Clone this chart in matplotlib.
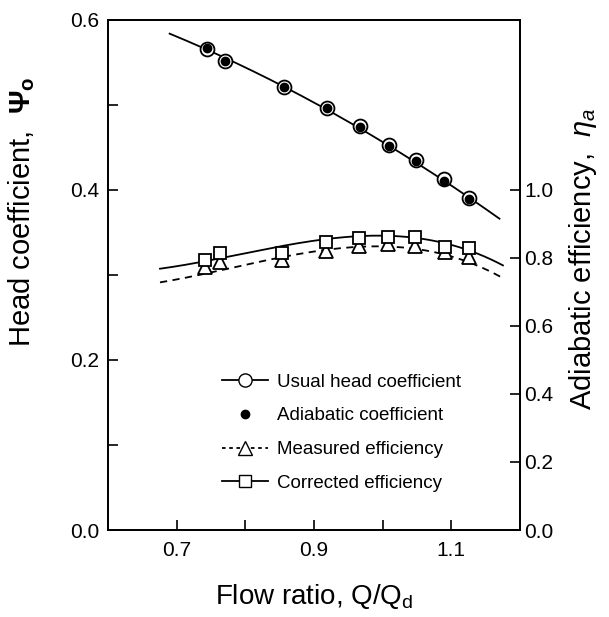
import numpy as np
import matplotlib
matplotlib.use("Agg")
import matplotlib.pyplot as plt
from matplotlib.lines import Line2D

plt.rcParams['font.family'] = ['Liberation Sans', 'DejaVu Sans']
plt.rcParams['mathtext.fontset'] = 'custom'
plt.rcParams['mathtext.rm'] = 'Liberation Sans'
plt.rcParams['mathtext.it'] = 'Liberation Sans:italic'
plt.rcParams['mathtext.bf'] = 'Liberation Sans:bold'

# ---- data ----
flow = [0.744, 0.770, 0.856, 0.919, 0.967, 1.009, 1.048, 1.089, 1.125]
head_usual = [0.566, 0.552, 0.5215, 0.496, 0.4745, 0.453, 0.435, 0.4126, 0.390]
head_adiabatic = [0.567, 0.551, 0.521, 0.496, 0.4735, 0.452, 0.434, 0.4105, 0.389]
eff_flow = [0.741, 0.763, 0.854, 0.918, 0.966, 1.008, 1.047, 1.091, 1.125]
eff_measured = [0.774, 0.788, 0.794, 0.821, 0.834, 0.841, 0.836, 0.816, 0.804]
eff_corrected = [0.794, 0.814, 0.814, 0.846, 0.858, 0.862, 0.860, 0.831, 0.828]

# curve traces
head_curve_x = [0.69, 0.80, 0.90, 1.00, 1.10, 1.17]
head_curve_y = [0.585, 0.541, 0.5036, 0.457, 0.406, 0.365]
corr_curve_x = [0.676, 0.792, 0.889, 1.006, 1.083, 1.175]
corr_curve_y = [0.768, 0.811, 0.846, 0.866, 0.846, 0.778]
meas_curve_x = [0.676, 0.792, 0.889, 1.006, 1.083, 1.175]
meas_curve_y = [0.728, 0.776, 0.814, 0.836, 0.811, 0.741]

x_ticks = [0.7, 0.8, 0.9, 1.0, 1.1]
x_ticklabels = ['0.7', '', '0.9', '', '1.1']
left_ticks = [0.0, 0.1, 0.2, 0.3, 0.4, 0.5, 0.6]
left_ticklabels = ['0.0', '', '0.2', '', '0.4', '', '0.6']
right_ticks = [0.0, 0.2, 0.4, 0.6, 0.8, 1.0]
right_ticklabels = ['0.0', '0.2', '0.4', '0.6', '0.8', '1.0']

def smooth(xs, ys, deg=3, n=200):
    c = np.polyfit(xs, ys, deg)
    xx = np.linspace(min(xs), max(xs), n)
    return xx, np.polyval(c, xx)

fig = plt.figure(figsize=(6.09, 6.17), dpi=100)
ax = fig.add_axes([0.177, 0.141, 0.677, 0.827])
ax2 = ax.twinx()

lw = 1.3
# head coefficient
hx, hy = smooth(head_curve_x, head_curve_y, 2)
ax.plot(hx, hy, color='black', lw=lw, zorder=2)
ax.plot(flow, head_usual, 'o', ms=10, mfc='white', mec='black', mew=1.3, zorder=3)
ax.plot(flow, head_adiabatic, 'o', ms=6, mfc='black', mec='black', zorder=4)

# efficiency
cx, cy = smooth(corr_curve_x, corr_curve_y, 3)
mx, my = smooth(meas_curve_x, meas_curve_y, 3)
ax2.plot(cx, cy, color='black', lw=lw, zorder=2)
ax2.plot(mx, my, color='black', lw=lw, ls=(0, (4, 3)), zorder=2)
ax2.plot(eff_flow, eff_measured, '^', ms=9.5, mfc='white', mec='black', mew=1.3, zorder=3)
ax2.plot(eff_flow, eff_corrected, 's', ms=9, mfc='white', mec='black', mew=1.3, zorder=4)

ax.set_xlim(0.6, 1.2)
ax.set_ylim(0.0, 0.6)
ax2.set_ylim(0.0, 1.5)

ax.set_xticks(x_ticks)
ax.set_xticklabels(x_ticklabels)
ax.set_yticks(left_ticks)
ax.set_yticklabels(left_ticklabels)
ax2.set_yticks(right_ticks)
ax2.set_yticklabels(right_ticklabels)

for a in (ax, ax2):
    for s in a.spines.values():
        s.set_linewidth(1.3)
ax.tick_params(direction='in', length=7, width=1.2, labelsize=15, pad=6)
ax2.tick_params(direction='in', length=7, width=1.2, labelsize=15, pad=3)
ax.tick_params(axis='x', pad=8)

ax.set_xlabel('Flow ratio, Q/Q$_{\\mathregular{d}}$', fontsize=20)
ax.xaxis.set_label_coords(0.5, -0.131)
ax.xaxis.label.set_va('center')

ax.set_ylabel('Head coefficient,  $\\mathbf{\\Psi}_{\\mathbf{o}}$', fontsize=21)
ax.yaxis.set_label_coords(-0.209, 0.624)
ax.yaxis.label.set_va('center')

ax2.set_ylabel('Adiabatic efficiency,  $\\eta_a$', fontsize=21)
ax2.yaxis.set_label_coords(1.153, 0.531)
ax2.yaxis.label.set_va('center')

handles = [
    Line2D([], [], color='black', lw=lw, marker='o', ms=9.5, mfc='white', mec='black'),
    Line2D([], [], ls='none', marker='o', ms=6, mfc='black', mec='black'),
    Line2D([], [], color='black', lw=lw, ls=(0, (2, 2)), marker='^', ms=9.5, mfc='white', mec='black'),
    Line2D([], [], color='black', lw=lw, marker='s', ms=9, mfc='white', mec='black'),
]
labels = ['Usual head coefficient', 'Adiabatic coefficient', 'Measured efficiency', 'Corrected efficiency']
leg = ax2.legend(handles, labels, loc='upper left', bbox_to_anchor=(0.26, 0.321),
                 frameon=False, fontsize=13.5, handlelength=2.45, handletextpad=0.45,
                 labelspacing=0.88, borderaxespad=0)

fig.savefig('out.png', dpi=100)
